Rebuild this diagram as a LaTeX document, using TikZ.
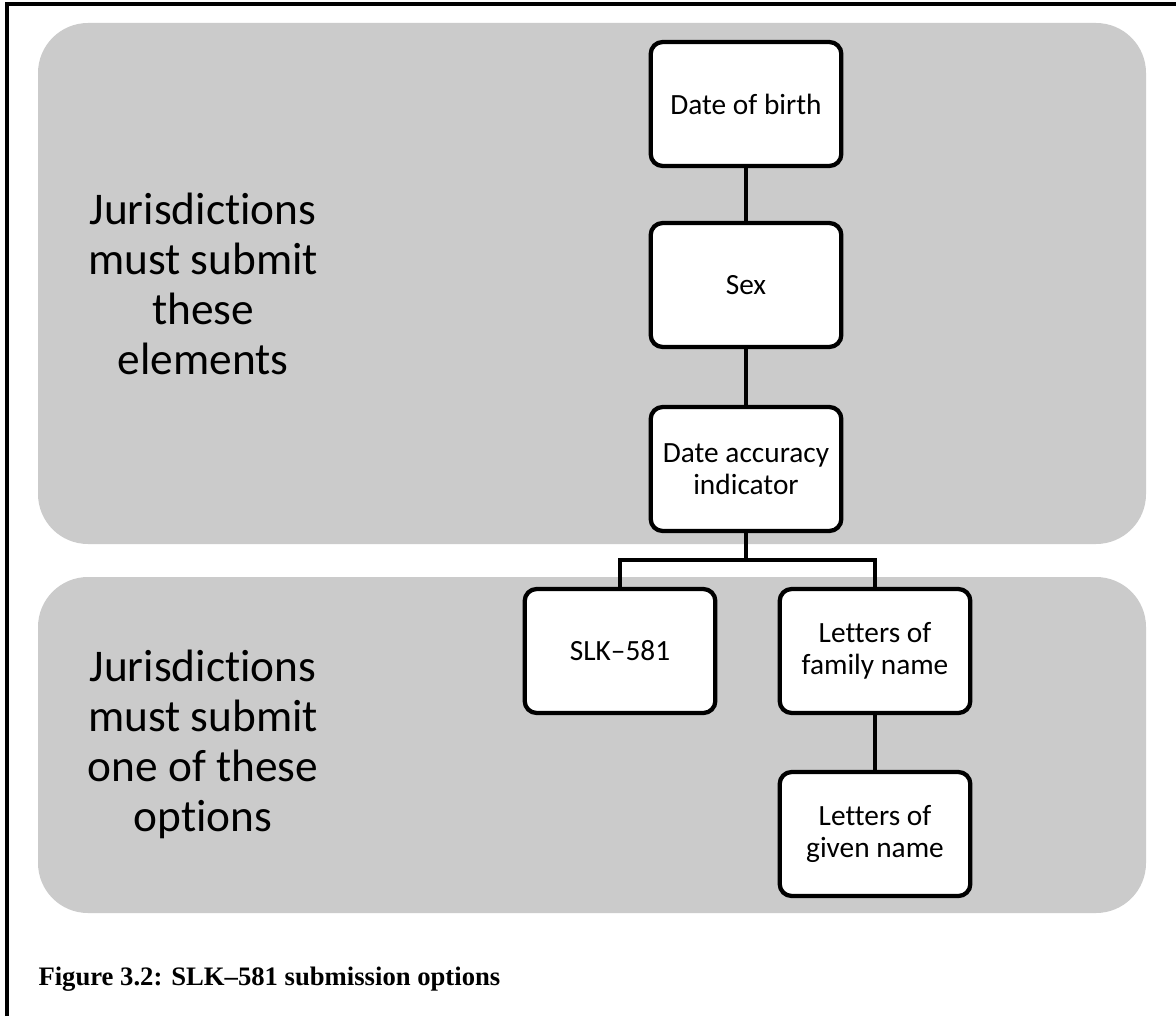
\documentclass[tikz,border=0pt]{standalone}
\usepackage{fontspec}
\setmainfont{Carlito}[Ligatures={TeX,NoCommon}]
\newfontfamily\captionfont{Liberation Serif}

\definecolor{panelgray}{RGB}{203,203,203}

\tikzset{every picture/.style={line width=0.75pt}}
\tikzset{
  elembox/.style={draw, fill=white, line width=3.2pt, rounded corners=9pt,
    minimum width=143pt, minimum height=93pt, align=center, inner sep=2pt,
    font=\fontsize{22}{24}\selectfont},
  treeline/.style={line width=3.2pt},
  sidetext/.style={align=center, inner sep=0pt, font=\fontsize{34}{37.5}\selectfont},
}

\begin{document}
\begin{tikzpicture}[x=0.75pt,y=0.75pt,yscale=-1,xscale=1]
\useasboundingbox (0,0) rectangle (1176,1016);

%Frame
\draw [line width=2.5] (7,1016) -- (7,4) -- (1176,4);

%Panels
\fill [panelgray, rounded corners=37.5] (38,23) rectangle (1146,544);
\fill [panelgray, rounded corners=37.5] (38,577) rectangle (1146,913);

% Text Node
\node [sidetext] (mustall) at (203,284) {Jurisdictions\\must submit\\these\\elements};
% Text Node
\node [sidetext] (mustone) at (203,744) {Jurisdictions\\must submit\\one of these\\options};

%Element boxes
\node [elembox] (dob) at (746,104) {Date of birth};
\node [elembox] (sex) at (746,285) {Sex};
\node [elembox] (dai) at (746,469) {Date accuracy\\indicator};
\node [elembox] (slk) at (620,651) {SLK–581};
\node [elembox] (fam) at (875,651) {Letters of\\family name};
\node [elembox] (giv) at (875,834) {Letters of\\given name};

%Connectors
\coordinate (fork) at (746,560);
\draw [treeline] (dob) -- (sex);
\draw [treeline] (sex) -- (dai);
\draw [treeline] (dai) -- (fork);
\draw [treeline] (slk.north) |- (fork) -| (fam.north);
\draw [treeline] (fam) -- (giv);

% Text Node
\node [anchor=base west, inner sep=0pt] (caption) at (38,985) {\captionfont\fontsize{20}{23}\selectfont\bfseries Figure 3.2: SLK–581 submission options};
\end{tikzpicture}
\end{document}
